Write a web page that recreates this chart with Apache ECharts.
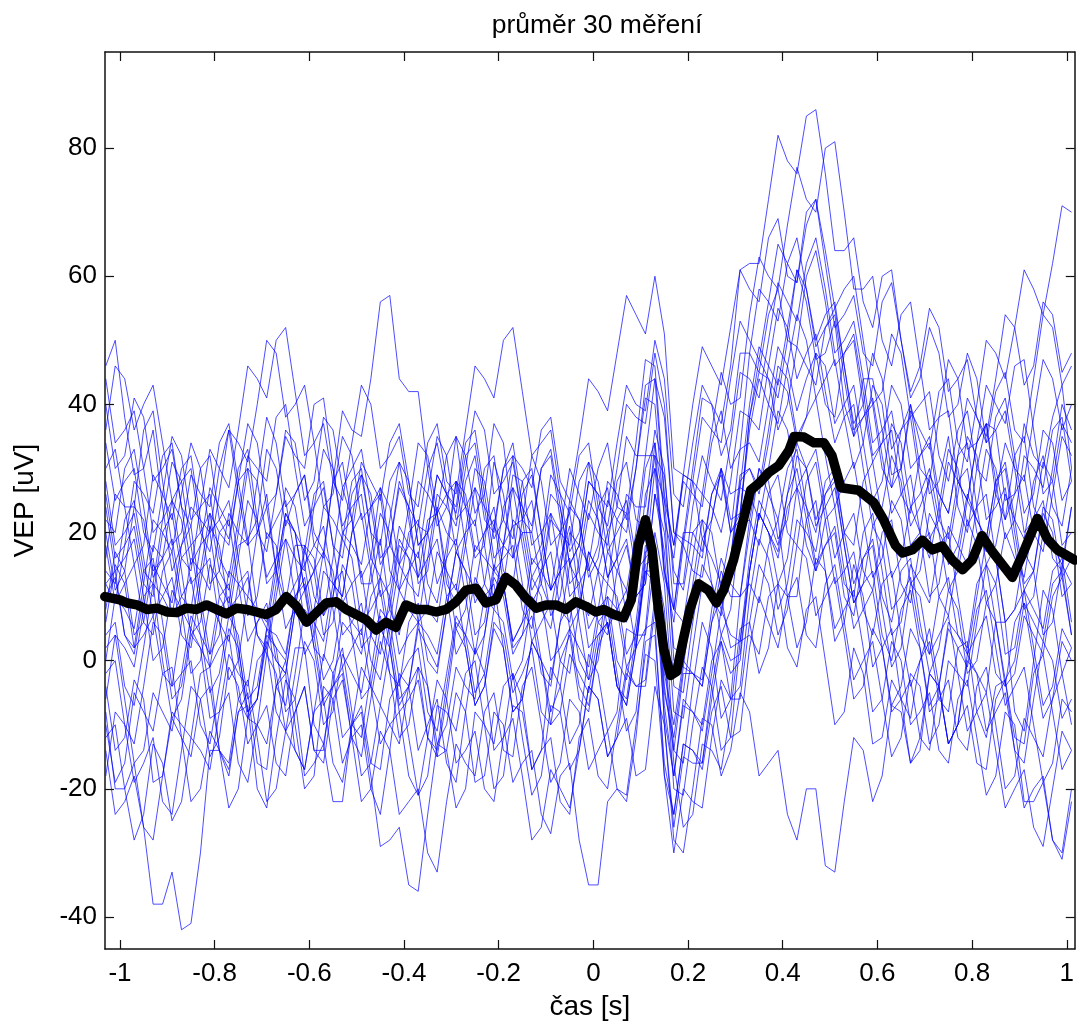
<!DOCTYPE html>
<html>
<head>
<meta charset="utf-8">
<script src="https://cdn.jsdelivr.net/npm/echarts@6/dist/echarts.min.js"></script>
<style>
html,body{margin:0;padding:0;background:#fff;}
#chart{width:1077px;height:1026px;}
</style>
</head>
<body>
<div id="chart"></div>
<script>
// time grid of the single measurements [s]
var tTrial = [-1.03,-1.01,-0.99,-0.97,-0.95,-0.93,-0.91,-0.89,-0.87,-0.85,-0.83,-0.81,-0.79,-0.77,-0.75,-0.73,-0.71,-0.69,-0.67,-0.65,-0.63,-0.61,-0.59,-0.57,-0.55,-0.53,-0.51,-0.49,-0.47,-0.45,-0.43,-0.41,-0.39,-0.37,-0.35,-0.33,-0.31,-0.29,-0.27,-0.25,-0.23,-0.21,-0.19,-0.17,-0.15,-0.13,-0.11,-0.09,-0.07,-0.05,-0.03,-0.01,0.01,0.03,0.05,0.07,0.09,0.11,0.13,0.15,0.17,0.19,0.21,0.23,0.25,0.27,0.29,0.31,0.33,0.35,0.37,0.39,0.41,0.43,0.45,0.47,0.49,0.51,0.53,0.55,0.57,0.59,0.61,0.63,0.65,0.67,0.69,0.71,0.73,0.75,0.77,0.79,0.81,0.83,0.85,0.87,0.89,0.91,0.93,0.95,0.97,0.99,1.01];

// 30 single measurements (uV)
var trial01 = [46,50,38,29,30,36,24,14,18,24,22,20,30,36,26,18,20,26,14,9,18,18,10,7,16,27,22,12,12,19,8,4,14,21,20,12,16,28,24,16,18,31,26,16,20,20,12,8,16,21,10,7,14,20,8,6,18,30,34,14,6,18,14,13,22,30,20,22,38,45,44,41,50,61,56,47,48,53,40,35,44,44,36,27,30,40,34,26,28,35,24,20,30,37,36,25,26,37,32,30,38,43,30];
var trial02 = [-8,-20,-20,-16,-26,-38,-38,-33,-42,-41,-30,-14,-14,-18,-8,-5,-16,-17,-4,0,-10,-20,-18,-4,-6,-16,-12,-10,-20,-24,-14,-2,-4,-14,-10,-6,-16,-19,-8,2,-2,-14,-12,-2,-6,-17,-14,-1,-4,-13,-10,1,-2,-11,-8,5,4,4,16,8,-14,-16,-4,6,2,-9,-6,10,12,9,18,22,10,10,22,25,14,3,6,15,10,-1,2,5,-6,-9,0,5,-4,-13,-10,1,-2,-5,6,6,-8,-11,0,11,8,-2,2];
var trial03 = [30,33,24,24,36,39,28,18,20,29,26,24,34,37,28,19,22,33,30,21,26,29,18,16,28,39,36,35,44,56,57,44,42,42,30,21,24,35,32,23,26,37,34,21,22,32,28,18,20,30,26,22,30,34,24,23,34,47,46,26,18,28,26,24,34,39,30,33,48,58,56,53,62,66,58,49,52,55,46,37,40,48,44,33,36,40,30,28,38,39,28,25,34,37,26,22,32,35,24,21,30,40,36];
var trial04 = [-4,-14,-12,-3,-6,-19,-18,-8,-10,-12,-2,-1,-14,-17,-8,-7,-20,-23,-12,-3,-6,-18,-16,-13,-22,-22,-10,-8,-18,-29,-28,-26,-35,-36,-24,-13,-14,-23,-20,-8,-10,-20,-18,-7,-8,-17,-14,-12,-22,-24,-12,-9,-18,-20,-10,-1,-4,-4,8,2,-20,-21,-10,-1,-4,-14,-12,3,4,1,10,12,2,-1,8,10,0,-10,-8,2,-2,-13,-12,-3,-6,-16,-14,-2,-4,-13,-10,-7,-16,-17,-6,-3,-12,-13,-2,1,-8,-17,-14];
var trial05 = [12,14,4,1,10,12,0,-9,-6,4,2,-9,-8,1,-2,-4,6,8,-4,-7,2,2,-10,-13,-4,-2,-12,-15,-6,3,-2,-12,-10,-1,-4,-15,-14,-5,-8,-19,-18,-8,-10,-19,-16,-14,-24,-27,-18,-16,-28,-35,-35,-22,-20,-22,-12,3,4,-16,-24,-13,-14,-16,-6,3,-2,0,14,23,20,12,16,27,24,15,18,20,10,7,16,18,8,-1,2,12,10,1,4,7,-2,-4,6,15,12,1,2,11,8,5,14,16,6];
var trial06 = [20,11,14,24,22,13,16,19,10,8,18,27,24,21,30,33,22,13,16,27,24,15,18,21,12,10,20,29,26,16,18,28,24,12,14,24,20,18,28,32,22,20,30,34,24,15,18,29,26,17,20,31,28,20,24,35,32,32,44,38,20,19,30,41,40,37,46,61,62,62,72,82,78,76,85,86,76,64,64,66,56,52,60,61,50,41,44,52,48,38,40,48,44,34,36,39,30,28,38,47,44,36,40];
var trial07 = [16,26,24,15,18,29,26,22,30,32,22,12,14,23,20,18,28,38,34,24,26,29,20,17,28,31,22,13,16,27,24,15,18,28,26,23,32,35,24,21,30,32,22,19,28,30,20,11,14,25,22,14,18,28,26,22,30,41,40,22,16,29,28,26,36,45,40,41,54,63,60,58,68,77,72,70,80,81,70,58,58,60,50,46,54,56,46,36,38,47,44,33,34,43,40,37,46,47,36,26,28,37,34];
var trial08 = [-10,-19,-16,-5,-8,-11,-2,-1,-12,-15,-6,-4,-14,-23,-20,-9,-10,-13,-4,-2,-14,-17,-8,1,-2,-12,-10,-7,-16,-17,-6,-3,-12,-21,-18,-7,-8,-11,-2,0,-10,-13,-4,-2,-12,-21,-18,-7,-8,-17,-14,-4,-6,-15,-12,-9,-18,-17,-4,-10,-28,-30,-20,-9,-10,-18,-14,-5,-8,-18,-16,-14,-24,-28,-20,-20,-32,-33,-22,-12,-14,-22,-18,-7,-8,-16,-12,-2,-4,-13,-10,0,-2,-11,-8,-5,-14,-16,-6,3,0,-9,-6];
var trial09 = [8,17,14,4,6,15,12,9,18,21,10,1,4,14,12,10,20,24,14,5,8,18,16,7,10,20,18,15,24,26,14,11,20,22,12,9,18,28,26,17,20,24,14,12,22,25,16,7,10,20,18,15,24,27,16,7,10,26,30,13,8,20,20,17,26,30,22,23,36,44,40,37,46,54,50,41,44,47,38,30,34,43,40,29,30,39,36,33,42,44,34,31,40,50,48,44,52,61,58,54,62,71,70];
var trial10 = [26,16,18,21,12,10,20,23,14,4,6,15,12,9,18,19,8,6,16,19,10,1,4,14,12,10,20,23,14,5,8,18,16,13,22,23,12,9,18,27,24,14,16,18,8,5,14,23,20,10,12,15,6,4,14,18,10,12,26,17,-4,-5,6,15,12,4,8,21,22,18,26,29,20,18,28,31,22,12,14,17,8,4,12,14,4,-4,0,3,-6,-8,2,3,-8,-12,-4,-3,-14,-23,-20,-18,-28,-31,-22];
var trial11 = [0,10,8,5,14,16,6,-4,-2,7,4,1,10,12,2,-8,-6,3,0,-2,8,17,14,4,6,15,12,2,4,7,-2,-4,6,9,0,-2,8,17,14,11,20,22,12,3,6,9,0,-8,-4,5,2,-1,8,10,0,-3,6,18,18,-2,-10,0,-2,-4,6,14,10,10,22,30,26,22,30,33,24,20,28,30,20,12,16,19,10,6,14,16,6,-2,2,11,8,-2,0,9,6,-4,-2,7,4,1,10,13,4];
var trial12 = [34,25,28,30,20,17,26,35,32,22,24,26,16,13,22,32,30,28,38,40,30,21,24,27,18,16,26,29,20,18,28,31,22,13,16,26,24,21,30,39,36,26,28,31,22,20,30,33,24,15,18,28,26,17,20,23,14,16,30,25,8,6,16,26,24,20,28,39,38,36,46,55,52,44,48,51,42,34,38,40,30,21,24,32,28,18,20,29,26,23,32,34,24,15,18,26,22,19,28,32,24,21,30];
var trial13 = [-18,-8,-10,-19,-16,-12,-22,-24,-14,-4,-6,-15,-12,-1,-4,-13,-10,-7,-16,-18,-8,-4,-14,-14,-2,2,-8,-18,-16,-7,-10,-13,-4,-1,-12,-15,-6,5,2,-7,-4,6,4,-5,-2,2,-8,-10,0,4,-6,-8,2,6,-4,-6,4,14,12,-9,-18,-6,-8,-11,-2,8,4,3,14,23,20,16,24,27,18,14,22,24,14,5,8,11,2,-7,-4,5,2,-8,-6,-3,-12,-14,-4,-1,-10,-20,-18,-9,-12,-15,-6,-2,-10];
var trial14 = [22,20,30,33,24,14,16,25,22,12,14,23,20,18,28,37,34,24,26,35,32,30,40,41,30,21,24,26,16,13,22,31,28,18,20,23,14,5,8,18,16,14,24,27,18,9,12,22,20,18,28,31,22,13,16,26,24,24,36,30,12,12,24,32,28,25,34,45,44,41,50,59,56,53,62,66,58,48,50,53,44,34,36,39,30,21,24,28,20,11,14,22,18,9,12,20,16,13,22,31,28,18,20];
var trial15 = [4,6,-4,-7,2,12,10,7,16,18,8,-1,2,4,-6,-9,0,2,-8,-11,-2,8,6,3,12,14,4,-6,-4,5,2,-8,-6,-3,-12,-14,-4,6,4,-5,-2,8,6,-3,0,10,8,5,14,16,6,-3,0,10,8,-1,2,14,14,-5,-12,-1,-2,-3,8,16,12,10,20,30,28,19,22,32,30,22,26,29,20,18,28,31,22,13,16,24,20,10,12,21,18,15,24,26,16,6,8,17,14,4,6,15,12];
var trial16 = [12,9,18,28,26,23,32,34,24,15,18,20,10,7,16,25,22,12,14,23,20,17,26,28,18,9,12,14,4,1,10,19,16,6,8,17,14,11,20,22,12,9,18,27,24,21,30,32,22,12,14,23,20,18,28,31,22,21,32,29,14,11,20,22,12,8,16,29,30,26,34,44,42,34,38,48,46,37,40,43,34,25,28,37,34,24,26,30,22,19,28,30,20,17,26,34,30,20,22,25,16,14,24];
var trial17 = [-2,0,-10,-13,-4,6,4,-6,-4,5,2,-1,8,10,0,-9,-6,4,2,0,10,13,4,-6,-4,-1,-10,-12,-2,8,6,-3,0,2,-8,-11,-2,7,4,1,10,12,2,-8,-6,3,0,-3,6,15,12,2,4,6,-4,-7,2,15,16,-7,-18,-7,-8,-10,0,3,-6,-4,10,19,16,8,12,22,20,17,26,28,18,9,12,14,4,0,8,11,2,-7,-4,6,4,1,10,19,16,6,8,11,2,-7,-4,5,2];
var trial18 = [18,9,12,15,6,4,14,17,8,-2,0,9,6,3,12,14,4,1,10,19,16,6,8,17,14,4,6,9,0,-3,6,15,12,10,20,29,26,24,34,36,26,16,18,29,28,18,20,23,14,5,8,17,14,12,22,25,16,19,34,23,0,-1,10,19,16,12,20,33,34,31,40,49,46,39,44,48,40,38,48,51,42,32,34,36,26,23,32,34,24,15,18,26,22,19,28,31,22,12,14,23,20,10,12];
var trial19 = [-12,-10,-20,-28,-24,-13,-16,-25,-22,-12,-14,-17,-8,-5,-16,-19,-10,1,-2,-11,-8,-4,-14,-16,-6,-3,-12,-22,-20,-11,-14,-24,-22,-20,-30,-33,-22,-13,-16,-18,-8,-5,-14,-15,-4,-1,-10,-19,-16,-6,-8,-17,-14,-11,-20,-21,-10,1,0,-18,-24,-13,-14,-17,-8,-4,-12,-11,2,10,6,2,10,13,4,2,12,15,6,-3,0,3,-6,-15,-12,-2,-4,-13,-10,0,-2,-11,-8,-5,-14,-23,-20,-17,-26,-29,-20,-11,-14];
var trial20 = [40,30,32,41,38,28,30,33,24,21,30,32,22,19,28,30,20,17,26,36,34,25,28,38,36,27,30,33,24,15,18,27,24,21,30,34,26,17,20,30,28,19,22,32,30,27,36,38,28,25,34,44,42,39,48,57,54,51,60,51,30,29,40,49,46,43,52,61,58,56,66,69,60,59,70,72,62,52,54,57,48,46,56,59,50,42,46,55,52,42,44,47,38,35,44,54,52,43,46,56,54,45,48];
var trial21 = [6,15,12,2,4,7,-2,-4,6,16,14,11,20,22,12,3,6,9,0,-2,8,11,2,0,10,19,16,6,8,11,2,-7,-4,6,4,1,10,12,2,-7,-4,5,2,-8,-6,3,0,-10,-8,1,-2,-5,4,6,-4,-7,2,16,18,-10,-26,-15,-16,-16,-4,4,0,1,14,23,20,17,26,30,22,14,18,21,12,10,20,23,14,4,6,15,12,9,18,20,10,1,4,7,-2,-4,6,9,0,-9,-6,3,0];
var trial22 = [28,18,20,23,14,12,22,25,16,14,24,33,30,27,36,46,44,41,50,52,42,32,34,37,28,25,34,43,40,30,32,35,26,24,34,37,28,26,36,46,44,41,50,52,42,32,34,36,26,23,32,34,24,21,30,40,38,37,48,40,20,18,28,38,36,34,44,53,50,47,56,65,62,59,68,72,64,55,58,60,50,40,42,51,48,38,40,42,32,28,36,39,30,28,38,41,32,23,26,36,34,25,28];
var trial23 = [-6,4,2,-1,8,18,16,7,10,13,4,-5,-2,7,4,-6,-4,5,2,-8,-6,3,0,-10,-8,1,-2,-5,4,13,10,1,4,6,-4,-13,-10,-1,-4,-6,4,13,10,1,4,7,-2,-4,6,9,0,-3,6,8,-2,-11,-8,5,6,-18,-30,-20,-22,-23,-12,-3,-6,-6,6,15,12,4,8,18,16,7,10,13,4,-6,-4,5,2,-8,-6,-3,-12,-14,-4,5,2,-1,8,11,2,-7,-4,-1,-10,-19,-16,-6,-8];
var trial24 = [14,12,22,25,16,7,10,13,4,2,12,21,18,8,10,13,4,2,12,22,20,11,14,24,22,19,28,30,20,10,12,21,18,16,26,35,32,22,24,27,18,9,12,22,20,11,14,17,8,6,16,25,22,13,16,19,10,12,26,20,2,1,12,22,20,11,14,28,30,27,36,46,44,35,38,41,32,24,28,31,22,13,16,25,22,12,14,23,20,17,26,35,32,22,24,27,18,8,10,20,18,15,24];
var trial25 = [36,46,44,36,40,43,34,25,28,30,20,17,26,36,34,31,40,50,48,38,40,43,34,24,26,35,32,22,24,27,18,15,24,34,32,23,26,28,18,9,12,21,18,16,26,29,20,11,14,24,22,13,16,25,22,20,30,43,44,25,18,29,28,19,22,30,26,27,40,49,46,43,52,61,58,50,54,56,46,36,38,41,32,23,26,29,20,16,24,33,30,21,24,33,30,22,26,29,20,17,26,35,32];
var trial26 = [-14,-24,-22,-18,-26,-28,-18,-9,-12,-22,-20,-11,-14,-16,-6,-3,-12,-22,-20,-11,-14,-17,-8,-6,-16,-19,-10,-1,-4,-13,-10,-8,-18,-21,-12,-3,-6,-16,-14,-11,-20,-22,-12,-9,-18,-28,-26,-17,-20,-23,-14,-4,-6,-15,-12,-2,-4,-3,10,3,-16,-26,-24,-13,-14,-17,-8,5,6,-2,2,12,10,2,6,16,14,5,8,11,2,-8,-6,3,0,-10,-8,-5,-14,-16,-6,-3,-12,-21,-18,-8,-10,-22,-22,-19,-28,-30,-20];
var trial27 = [10,13,4,2,12,22,20,17,26,34,30,20,22,25,16,7,10,20,18,9,12,15,6,-3,0,9,6,4,14,23,20,11,14,17,8,6,16,19,10,1,4,14,12,3,6,16,14,11,20,23,14,5,8,17,14,11,20,32,32,14,8,19,18,16,26,29,20,23,38,47,44,36,40,49,46,43,52,54,44,35,38,40,30,27,36,38,28,19,22,31,28,25,34,37,28,19,22,32,30,27,36,38,28];
var trial28 = [24,14,16,19,10,0,2,11,8,5,14,16,6,-3,0,10,8,5,14,23,20,11,14,17,8,-1,2,5,-4,-7,2,11,8,6,16,19,10,1,4,13,10,8,18,21,12,3,6,9,0,-2,8,17,14,5,8,11,2,5,20,12,-8,-9,2,12,10,7,16,27,26,22,30,39,36,27,30,33,24,16,20,23,14,11,20,22,12,9,18,20,10,7,16,25,22,19,28,30,20,11,14,24,22,13,16];
var trial29 = [2,4,-6,-16,-14,-5,-8,-11,-2,0,-10,-13,-4,5,2,-8,-6,5,4,1,10,12,2,-7,-4,6,4,1,10,13,4,-6,-4,5,2,-1,8,17,14,4,6,15,12,2,4,13,10,0,2,5,-4,-7,2,12,10,1,4,17,18,-4,-14,-2,-2,-4,6,10,2,3,16,25,22,18,26,34,30,21,24,27,18,9,12,21,18,8,10,13,4,1,10,13,4,2,12,15,6,-3,0,9,6,3,12,14,4];
var trial30 = [44,34,36,39,30,20,22,31,28,18,20,23,14,11,20,30,28,19,22,25,16,14,24,33,30,20,22,31,28,25,34,37,28,18,20,29,26,23,32,34,24,21,30,32,22,13,16,26,24,15,18,28,26,24,34,43,40,39,50,44,26,24,34,43,40,32,36,48,48,45,54,58,50,49,60,64,56,46,48,50,40,31,34,43,40,30,32,35,26,23,32,41,38,34,42,45,36,34,44,54,52,43,46];

// average of the 30 measurements
var tMean = [-1.032,-1.0,-0.985,-0.964,-0.943,-0.922,-0.9,-0.88,-0.86,-0.838,-0.817,-0.796,-0.775,-0.754,-0.733,-0.712,-0.691,-0.67,-0.649,-0.627,-0.606,-0.585,-0.564,-0.543,-0.522,-0.501,-0.48,-0.459,-0.438,-0.417,-0.396,-0.374,-0.353,-0.332,-0.311,-0.29,-0.269,-0.248,-0.227,-0.206,-0.185,-0.164,-0.143,-0.121,-0.1,-0.079,-0.058,-0.037,-0.016,0.005,0.022,0.043,0.064,0.08,0.095,0.11,0.124,0.135,0.149,0.163,0.176,0.19,0.204,0.222,0.243,0.26,0.275,0.296,0.317,0.332,0.35,0.371,0.392,0.413,0.424,0.445,0.466,0.487,0.504,0.523,0.56,0.592,0.613,0.638,0.653,0.674,0.695,0.716,0.737,0.758,0.78,0.8,0.821,0.843,0.864,0.885,0.906,0.938,0.959,0.98,1.017];
var vMean = [10,9.5,9,8.7,8,8.2,7.6,7.5,8.2,8,8.7,8,7.3,8.2,8,7.6,7.2,8,10,8.5,6,7.5,9,9.2,8,7.2,6.4,4.8,6,5.2,8.7,8,8,7.6,8,9.2,11,11.3,9,9.5,13,11.8,9.8,8.2,8.7,8.7,8,9.2,8.5,7.6,8,7.2,6.7,9.5,18,22,17.3,9.5,1.7,-2.3,-1.7,3.3,8,12,11,9,11,15.7,22,26.6,27.7,29.4,30.5,32.8,35,34.9,34,34,32,27,26.6,24.7,22,18,16.8,17.3,18.8,17.3,17.9,15.7,14.2,15.7,19.5,17,15,13,16.5,22.2,19,17.3,15.7];

// axis ticks
var xTicks = [-1,-0.8,-0.6,-0.4,-0.2,0,0.2,0.4,0.6,0.8,1];
var yTicks = [-40,-20,0,20,40,60,80];

var trials = [trial01,trial02,trial03,trial04,trial05,trial06,trial07,trial08,trial09,trial10,
              trial11,trial12,trial13,trial14,trial15,trial16,trial17,trial18,trial19,trial20,
              trial21,trial22,trial23,trial24,trial25,trial26,trial27,trial28,trial29,trial30];

var FONT = 'Liberation Sans, Arial, sans-serif';
var series = [];
trials.forEach(function (tr, i) {
  var n = Math.min(tr.length, tTrial.length);
  var d = [];
  for (var k = 0; k < n; k++) d.push([tTrial[k], tr[k]]);
  series.push({
    type: 'line', name: 'm' + (i + 1), data: d,
    showSymbol: false, symbol: 'none', silent: true,
    lineStyle: { color: '#0000ff', width: 0.7 },
    z: 2
  });
});
series.push({
  type: 'line', name: 'průměr',
  data: tMean.map(function (t, k) { return [t, vMean[k]]; }),
  showSymbol: false, symbol: 'none', silent: true,
  lineStyle: { color: '#000000', width: 9.5, join: 'round', cap: 'round' },
  z: 5
});

var XMIN = -1.0316, XMAX = 1.0169, YMIN = -45, YMAX = 95;
function xAx(pos, labels) {
  return {
    type: 'value', position: pos, min: XMIN, max: XMAX,
    axisLine: { show: true, onZero: false, lineStyle: { color: '#111', width: 1.5 } },
    axisTick: { show: true, inside: true, length: 9, customValues: xTicks, lineStyle: { color: '#111', width: 1.2 } },
    axisLabel: { show: labels, customValues: xTicks, color: '#000', fontSize: 26, fontFamily: FONT, margin: 12,
      formatter: function (v) { return String(Math.round(v * 10) / 10); } },
    splitLine: { show: false },
    name: labels ? 'čas [s]' : '', nameLocation: 'middle', nameGap: 44,
    nameTextStyle: { color: '#000', fontSize: 28, fontFamily: FONT }
  };
}
function yAx(pos, labels) {
  return {
    type: 'value', position: pos, min: YMIN, max: YMAX,
    axisLine: { show: true, onZero: false, lineStyle: { color: '#111', width: 1.5 } },
    axisTick: { show: true, inside: true, length: 9, customValues: yTicks, lineStyle: { color: '#111', width: 1.2 } },
    axisLabel: { show: labels, customValues: yTicks, color: '#000', fontSize: 26, fontFamily: FONT, margin: 8 },
    splitLine: { show: false },
    name: labels ? 'VEP [uV]' : '', nameLocation: 'middle', nameGap: 66, nameRotate: 90,
    nameTextStyle: { color: '#000', fontSize: 28, fontFamily: FONT }
  };
}

var chart = echarts.init(document.getElementById('chart'));
chart.setOption({
  animation: false,
  backgroundColor: '#fff',
  title: { text: 'průměr 30 měření', left: 592, top: 7, textAlign: 'center',
    textStyle: { color: '#000', fontSize: 26.5, fontWeight: 'normal', fontFamily: FONT } },
  grid: { left: 105, right: 0, top: 52, bottom: 76, containLabel: false },
  xAxis: [xAx('bottom', true), xAx('top', false)],
  yAxis: [yAx('left', true), yAx('right', false)],
  series: series
});
</script>
</body>
</html>
